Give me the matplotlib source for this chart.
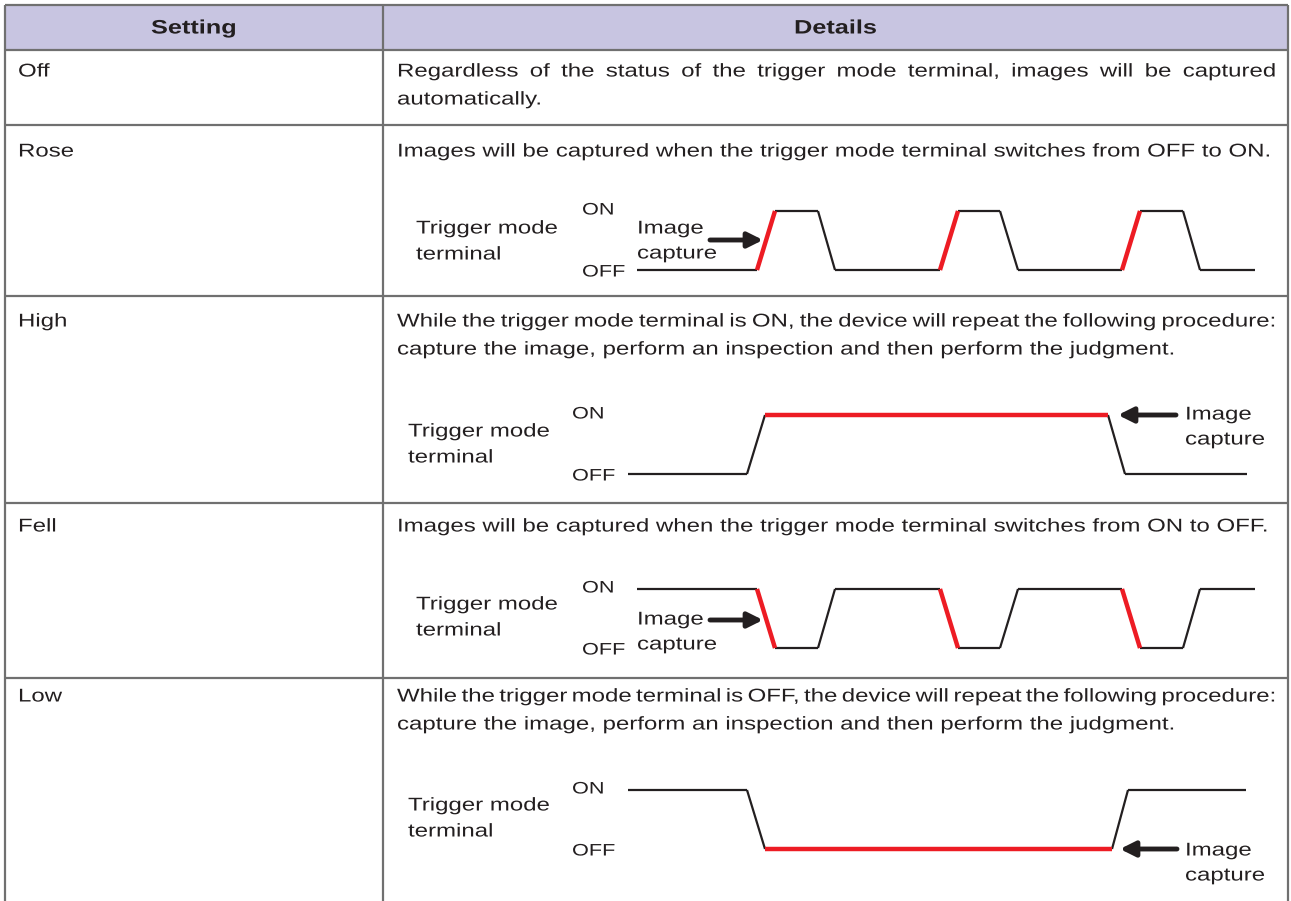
import matplotlib
matplotlib.use("Agg")
import matplotlib.pyplot as plt
import matplotlib.font_manager as fm
from matplotlib.patheffects import AbstractPathEffect
from matplotlib.transforms import Affine2D

plt.rcParams['font.family'] = ['Liberation Sans', 'DejaVu Sans']

# table content
headers = ["Setting", "Details"]
settings = ["Off", "Rose", "High", "Fell", "Low"]
details = [
    ["Regardless of the status of the trigger mode terminal, images will be captured",
     "automatically."],
    ["Images will be captured when the trigger mode terminal switches from OFF to ON."],
    ["While the trigger mode terminal is ON, the device will repeat the following procedure:",
     "capture the image, perform an inspection and then perform the judgment."],
    ["Images will be captured when the trigger mode terminal switches from ON to OFF."],
    ["While the trigger mode terminal is OFF, the device will repeat the following procedure:",
     "capture the image, perform an inspection and then perform the judgment."],
]
justified = [[True, False], [False], [True, False], [False], [True, False]]

# waveforms: edge times (px from waveform start) and logic levels (1 = ON)
rose_t = [0, 120, 138, 181, 198, 303, 321, 363, 381, 485, 503, 546, 563, 618]
rose_v = [0, 0, 1, 1, 0, 0, 1, 1, 0, 0, 1, 1, 0, 0]
rose_red = [1, 5, 9]          # segment index drawn red (captured edge)
high_t = [0, 119, 137, 480, 497, 619]
high_v = [0, 0, 1, 1, 0, 0]
high_red = [2]
fell_t = [0, 120, 138, 181, 198, 303, 321, 363, 381, 485, 503, 546, 563, 618]
fell_v = [1, 1, 0, 0, 1, 1, 0, 0, 1, 1, 0, 0, 1, 1]
fell_red = [1, 5, 9]
low_t = [0, 119, 137, 484, 500, 618]
low_v = [1, 1, 0, 0, 1, 1]
low_red = [2]

W, H = 1291, 901
fig = plt.figure(figsize=(W / 100, H / 100), dpi=100)
ax = fig.add_axes([0, 0, 1, 1])
ax.set_xlim(0, W)
ax.set_ylim(H, 0)
ax.axis('off')

TXT = '#231f20'
RED = '#ed1c24'
GRID = '#707070'
HEAD = '#c8c5e1'
SX = 1.3  # the source lettering is drawn wider than normal


class Stretch(AbstractPathEffect):
    # widen glyphs horizontally about the text origin
    def __init__(self, sx):
        super().__init__()
        self.sx = sx

    def draw_path(self, renderer, gc, tpath, affine, rgbFace=None):
        renderer.draw_path(gc, tpath, Affine2D().scale(self.sx, 1) + affine, rgbFace)


fig.canvas.draw()
renderer = fig.canvas.get_renderer()


def text_width(s, size, weight='normal'):
    t = ax.text(0, 0, s, fontsize=size, fontweight=weight)
    w = t.get_window_extent(renderer).width
    t.remove()
    return w * SX


def put(x, y, s, size, weight='normal', ha='left'):
    if ha == 'center':
        x = x - text_width(s, size, weight) / 2
    ax.text(x, y, s, ha='left', va='center', fontsize=size, fontweight=weight,
            color=TXT, path_effects=[Stretch(SX)])


def justify(line, x0, x1, y, size):
    words = line.split(' ')
    widths = [text_width(w, size) for w in words]
    gap = (x1 - x0 - sum(widths)) / (len(words) - 1)
    if gap < 0:
        put(x0, y, line, size)
        return
    x = x0
    for w, wd in zip(words, widths):
        put(x, y, w, size)
        x += wd + gap


left, mid, right, top = 5, 383, 1288, 5
row_lines = [50, 125, 296, 503, 678]

ax.fill_between([left, right], top, row_lines[0], color=HEAD, lw=0)
for y in [top] + row_lines:
    ax.plot([left, right], [y, y], color=GRID, lw=1.6, solid_capstyle='butt')
for x in [left, mid, right]:
    ax.plot([x, x], [top, H], color=GRID, lw=1.6, solid_capstyle='butt')

put((left + mid) / 2, 29, headers[0], 14, 'bold', 'center')
put((mid + right) / 2, 29, headers[1], 14, 'bold', 'center')

FS = 13.3
text_y = [72, 152, 322, 527, 697]
for i, name in enumerate(settings):
    y = text_y[i]
    put(18, y, name, FS)
    for j, line in enumerate(details[i]):
        yy = y + 28 * j
        if justified[i][j]:
            justify(line, 397, 1276, yy, FS)
        else:
            put(397, yy, line, FS)


def wave(t, v, red, x0, y_on, y_off):
    xs = [x0 + k for k in t]
    ys = [y_on if k else y_off for k in v]
    for k in range(len(xs) - 1):
        red_seg = k in red
        ax.plot(xs[k:k + 2], ys[k:k + 2], color=RED if red_seg else TXT,
                lw=3.2 if red_seg else 1.6, solid_capstyle='butt',
                solid_joinstyle='miter', zorder=3 if red_seg else 2)


def labels(tx, ty, onx, y_on, y_off):
    put(tx, ty, "Trigger mode", FS)
    put(tx, ty + 26, "terminal", FS)
    put(onx, y_on - 1, "ON", 12)
    put(onx, y_off + 2, "OFF", 12)


def capture(tx, ty, ax0, ax1, ay):
    put(tx, ty, "Image", FS)
    put(tx, ty + 25, "capture", FS)
    ax.annotate('', xy=(ax1, ay), xytext=(ax0, ay),
                arrowprops=dict(arrowstyle='-|>,head_length=0.9,head_width=0.45',
                                lw=3.5, color=TXT, shrinkA=0, shrinkB=0))


# Rose
wave(rose_t, rose_v, rose_red, 637, 211, 270)
labels(416, 229, 582, 211, 270)
capture(637, 229, 710, 763, 240)

# High
wave(high_t, high_v, high_red, 628, 415, 474)
labels(408, 432, 572, 415, 474)
capture(1185, 415, 1176, 1118, 415)

# Fell
wave(fell_t, fell_v, fell_red, 637, 589, 648)
labels(416, 605, 582, 589, 648)
capture(637, 620, 710, 763, 620)

# Low
wave(low_t, low_v, low_red, 628, 790, 849)
labels(408, 806, 572, 790, 849)
capture(1185, 851, 1177, 1120, 849)

fig.savefig("out.png", dpi=100)
